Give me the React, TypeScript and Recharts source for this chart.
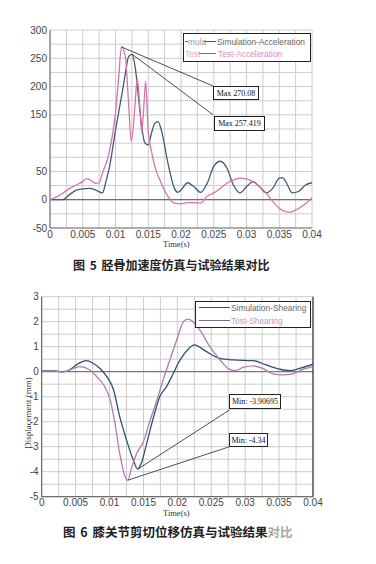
import React from "react";
import { LineChart, Line, XAxis, YAxis, CartesianGrid, ReferenceLine } from "recharts";

// ---------- Chart 1 (tibia acceleration) ----------
const accSimTime = [0, 0.0018, 0.003, 0.004, 0.005, 0.006, 0.007, 0.008, 0.0086, 0.009, 0.01, 0.011, 0.0115, 0.012, 0.0125, 0.013, 0.0135, 0.014, 0.0145, 0.015, 0.0155, 0.016, 0.0165, 0.017, 0.018, 0.019, 0.0195, 0.02, 0.021, 0.022, 0.023, 0.024, 0.025, 0.026, 0.027, 0.028, 0.029, 0.03, 0.031, 0.032, 0.033, 0.034, 0.035, 0.0355, 0.036, 0.037, 0.038, 0.039, 0.04];
const accSimValue = [0, 0, 9, 17, 19, 20, 17, 12, 35, 53, 123, 188, 223, 253, 257, 235, 182, 129, 100, 97, 118, 135, 138, 123, 65, 20, 13, 17, 30, 23, 13, 29, 59, 68, 56, 26, 12, 23, 32, 23, 12, 20, 38, 39, 32, 12, 15, 26, 30];
const accTestTime = [0, 0.001, 0.002, 0.003, 0.004, 0.005, 0.0055, 0.006, 0.007, 0.0075, 0.008, 0.009, 0.01, 0.0105, 0.0109, 0.0115, 0.012, 0.0124, 0.013, 0.0133, 0.0138, 0.014, 0.0143, 0.0146, 0.015, 0.0155, 0.016, 0.017, 0.018, 0.019, 0.02, 0.021, 0.022, 0.023, 0.024, 0.025, 0.026, 0.027, 0.028, 0.029, 0.03, 0.031, 0.032, 0.033, 0.034, 0.035, 0.036, 0.0365, 0.037, 0.038, 0.039, 0.04];
const accTestValue = [0, 5, 12, 20, 26, 32, 37, 36, 29, 30, 47, 82, 153, 218, 270, 253, 170, 103, 170, 215, 150, 120, 160, 209, 120, 85, 59, 29, 6, -6, -7, -5, -5, -6, 6, 12, 20, 29, 35, 38, 37, 32, 23, 12, -3, -15, -21, -22, -21, -15, -7, 3];
const accYTicks = [-50, -25, 0, 25, 50, 75, 100, 125, 150, 175, 200, 225, 250, 275, 300];
const accMaxTest = { t: 0.0109, v: 270.08, label: "Max 270.08" };
const accMaxSim = { t: 0.0125, v: 257.419, label: "Max 257.419" };
const accBox1Anchor = { t: 0.0249, v: 201 };
const accBox2Anchor = { t: 0.0249, v: 150 };

// ---------- Chart 2 (knee shearing displacement) ----------
const shSimTime = [0, 0.002, 0.003, 0.004, 0.005, 0.006, 0.0066, 0.0075, 0.0086, 0.0096, 0.0106, 0.0115, 0.0125, 0.0135, 0.01415, 0.0147, 0.0155, 0.0165, 0.0174, 0.0184, 0.0194, 0.0204, 0.0216, 0.0225, 0.0243, 0.0263, 0.0282, 0.0312, 0.0331, 0.0351, 0.0366, 0.038, 0.04];
const shSimValue = [0.03, 0.03, 0, 0.05, 0.25, 0.4, 0.44, 0.35, 0.13, -0.2, -0.73, -1.8, -2.73, -3.53, -3.9, -3.65, -2.85, -1.8, -1.0, -0.6, -0.07, 0.47, 0.9, 1.07, 0.8, 0.53, 0.47, 0.44, 0.27, 0.1, 0.04, 0.13, 0.3];
const shTestTime = [0, 0.002, 0.003, 0.004, 0.0056, 0.0071, 0.0081, 0.0093, 0.0101, 0.0108, 0.0115, 0.0123, 0.0127, 0.0133, 0.014, 0.015, 0.016, 0.017, 0.0179, 0.0189, 0.0199, 0.0209, 0.0216, 0.0233, 0.0248, 0.0263, 0.0277, 0.0285, 0.0297, 0.0312, 0.0326, 0.0341, 0.0356, 0.0368, 0.0385, 0.04];
const shTestValue = [0.02, 0.02, -0.02, 0.05, 0.2, 0.07, -0.2, -0.6, -1.13, -2.07, -3.27, -4.2, -4.34, -3.8, -3.27, -2.8, -1.93, -1.13, -0.33, 0.47, 1.27, 2.0, 2.1, 1.67, 1.0, 0.47, 0.09, 0.04, 0.17, 0.23, 0.13, -0.09, -0.13, -0.1, 0.09, 0.2];
const shYTicks = [-5, -4.5, -4, -3.5, -3, -2.5, -2, -1.5, -1, -0.5, 0, 0.5, 1, 1.5, 2, 2.5, 3];
const shMinSim = { t: 0.01415, v: -3.9, label: "Min: -3.90695" };
const shMinTest = { t: 0.0127, v: -4.34, label: "Min: -4.34" };
const shBox1Anchor = { t: 0.0277, v: -1.53 };
const shBox2Anchor = { t: 0.0277, v: -3.0 };

const xTicks = [0, 0.0025, 0.005, 0.0075, 0.01, 0.0125, 0.015, 0.0175, 0.02, 0.0225, 0.025, 0.0275, 0.03, 0.0325, 0.035, 0.0375, 0.04];
const xTickLabels = ["0", "", "0.005", "", "0.01", "", "0.015", "", "0.02", "", "0.025", "", "0.03", "", "0.035", "", "0.04"];

const zip = (ts: number[], vs: number[]) => ts.map((t, i) => ({ t, v: vs[i] }));

const accSim = zip(accSimTime, accSimValue);
const accTest = zip(accTestTime, accTestValue);
const shSim = zip(shSimTime, shSimValue);
const shTest = zip(shTestTime, shTestValue);

const SIM1 = "#3f5d75";
const TEST1 = "#d873aa";
const SIM2 = "#34506a";
const TEST2 = "#b27bb2";
const GRID = "#cccccc";

const tickStyle = { fontSize: 10, fill: "#444", fontFamily: "Liberation Sans, Arial, sans-serif" };

const xFmt = (v: number) => {
  const i = xTicks.indexOf(v);
  return i >= 0 ? xTickLabels[i] : "";
};

const abs = (left: number, top: number, extra: React.CSSProperties = {}): React.CSSProperties => ({
  position: "absolute",
  left,
  top,
  ...extra,
});

const boxStyle = (left: number, top: number, width: number, height: number): React.CSSProperties => ({
  position: "absolute",
  left,
  top,
  width,
  height,
  boxSizing: "border-box",
  border: "1px solid #222",
  background: "#fff",
  fontFamily: "Liberation Serif, Times New Roman, serif",
  fontSize: 8,
  color: "#111",
  display: "flex",
  alignItems: "center",
  justifyContent: "center",
  whiteSpace: "nowrap",
});

const legendText: React.CSSProperties = {
  fontFamily: "Liberation Sans, Arial, sans-serif",
  fontSize: 8.4,
  whiteSpace: "nowrap",
  lineHeight: "10px",
};

export default function App() {
  return (
    <div style={{ position: "absolute", left: 0, top: 0, width: 376, height: 564, background: "#fff", overflow: "hidden" }}>
      {/* Chart 1 */}
      <div style={abs(0, 0)}>
        <LineChart width={376} height={250} margin={{ top: 30, right: 64, bottom: 2, left: 10 }}>
          <CartesianGrid stroke={GRID} strokeWidth={1} />
          <XAxis
            type="number"
            dataKey="t"
            domain={[0, 0.04]}
            ticks={xTicks}
            tickFormatter={xFmt}
            interval={0}
            tickLine={false}
            tickSize={0}
            tickMargin={3}
            axisLine={{ stroke: "#777" }}
            tick={tickStyle}
            height={20}
            allowDataOverflow
          />
          <YAxis
            type="number"
            domain={[-50, 300]}
            ticks={accYTicks}
            tickFormatter={(v: number) => (v % 50 === 0 && v !== 100 ? String(v) : "")}
            interval={0}
            tickLine={false}
            tickSize={0}
            tickMargin={3}
            axisLine={{ stroke: "#666" }}
            tick={tickStyle}
            width={40}
            allowDataOverflow
          />
          <ReferenceLine y={0} stroke="#555" strokeWidth={1} />
          <Line data={accSim} dataKey="v" type="monotone" stroke={SIM1} strokeWidth={1.3} dot={false} isAnimationActive={false} />
          <Line data={accTest} dataKey="v" type="monotone" stroke={TEST1} strokeWidth={1.3} dot={false} isAnimationActive={false} />
          <ReferenceLine segment={[{ x: accMaxTest.t, y: accMaxTest.v }, { x: accBox1Anchor.t, y: accBox1Anchor.v }]} stroke="#222" strokeWidth={0.8} />
          <ReferenceLine segment={[{ x: accMaxSim.t, y: accMaxSim.v }, { x: accBox2Anchor.t, y: accBox2Anchor.v }]} stroke="#222" strokeWidth={0.8} />
        </LineChart>
      </div>
      {/* legend 1 */}
      <div style={{ position: "absolute", left: 183, top: 33, width: 128, height: 29, boxSizing: "border-box", border: "1px solid #222", background: "#fff" }} />
      <div style={abs(185, 41, { width: 3, height: 1, background: "#666" })} />
      <div style={abs(188, 36.5, { ...legendText, color: "#999" })}>mula</div>
      <div style={abs(204, 41, { width: 12, height: 1, background: "#555" })} />
      <div style={abs(217, 36.5, { ...legendText, color: "#666" })}>Simulation-Acceleration</div>
      <div style={abs(185, 48.5, { ...legendText, color: "#e3a9c8" })}>Test</div>
      <div style={abs(199, 53, { width: 17, height: 1, background: "#8a6a80" })} />
      <div style={abs(218, 48.5, { ...legendText, color: "#d98fb8" })}>Test-Acceleration</div>
      {/* annotation boxes 1 */}
      <div style={boxStyle(213, 86, 46, 14)}>{accMaxTest.label}</div>
      <div style={boxStyle(214, 116, 51, 15)}>{accMaxSim.label}</div>
      <div style={abs(163, 239, { fontFamily: "Liberation Serif, serif", fontSize: 8.5, color: "#333", lineHeight: "10px" })}>Time(s)</div>
      <div style={abs(73, 257, { fontFamily: "Noto Sans CJK SC, sans-serif", fontSize: 12, fontWeight: 700, color: "#222", lineHeight: "16px", whiteSpace: "nowrap", wordSpacing: 2 })}>
        图 5 胫骨加速度仿真与试验结果对比
      </div>

      {/* Chart 2 */}
      <div style={abs(0, 280)}>
        <LineChart width={376} height={240} margin={{ top: 16.7, right: 63, bottom: 3.3, left: 9.7 }}>
          <CartesianGrid stroke={GRID} strokeWidth={1} />
          <XAxis
            type="number"
            dataKey="t"
            domain={[0, 0.04]}
            ticks={xTicks}
            tickFormatter={xFmt}
            interval={0}
            tickLine={false}
            tickSize={0}
            tickMargin={2}
            axisLine={{ stroke: "#555" }}
            tick={tickStyle}
            height={20}
            allowDataOverflow
          />
          <YAxis
            type="number"
            domain={[-5, 3]}
            ticks={shYTicks}
            tickFormatter={(v: number) => (Number.isInteger(v) ? String(v) : "")}
            interval={0}
            tickLine={false}
            tickSize={0}
            tickMargin={3}
            axisLine={{ stroke: "#555" }}
            tick={tickStyle}
            width={32}
            allowDataOverflow
          />
          <ReferenceLine y={0} stroke="#666" strokeWidth={1} />
          <ReferenceLine x={0.04} stroke="#333" strokeWidth={1.2} />
          <Line data={shSim} dataKey="v" type="monotone" stroke={SIM2} strokeWidth={1.3} dot={false} isAnimationActive={false} />
          <Line data={shTest} dataKey="v" type="monotone" stroke={TEST2} strokeWidth={1.3} dot={false} isAnimationActive={false} />
          <ReferenceLine segment={[{ x: shMinSim.t, y: shMinSim.v }, { x: shBox1Anchor.t, y: shBox1Anchor.v }]} stroke="#222" strokeWidth={0.8} />
          <ReferenceLine segment={[{ x: shMinTest.t, y: shMinTest.v }, { x: shBox2Anchor.t, y: shBox2Anchor.v }]} stroke="#222" strokeWidth={0.8} />
        </LineChart>
      </div>
      {/* legend 2 */}
      <div style={{ position: "absolute", left: 195, top: 301, width: 116, height: 27, boxSizing: "border-box", border: "1px solid #222", background: "#fff" }} />
      <div style={abs(199, 307, { width: 31, height: 1, background: SIM2 })} />
      <div style={abs(231, 302.5, { ...legendText, color: "#666" })}>Simulation-Shearing</div>
      <div style={abs(199, 320, { width: 31, height: 1, background: "#7d6a90" })} />
      <div style={abs(231, 315.5, { ...legendText, color: "#c993c4" })}>Test-Shearing</div>
      {/* annotation boxes 2 */}
      <div style={boxStyle(229, 394, 52, 15)}>{shMinSim.label}</div>
      <div style={boxStyle(229, 433, 39, 14)}>{shMinTest.label}</div>
      <div style={abs(163, 508, { fontFamily: "Liberation Serif, serif", fontSize: 8.5, color: "#333", lineHeight: "10px" })}>Time(s)</div>
      <div
        style={{
          position: "absolute",
          left: 28,
          top: 413,
          transform: "translate(-50%, -50%) rotate(-90deg)",
          fontFamily: "Liberation Serif, serif",
          fontSize: 9,
          color: "#333",
          whiteSpace: "nowrap",
          lineHeight: "10px",
        }}
      >
        Displacement (mm)
      </div>
      <div style={abs(63, 524, { fontFamily: "Noto Sans CJK SC, sans-serif", fontSize: 12.5, fontWeight: 700, color: "#222", lineHeight: "16px", whiteSpace: "nowrap", wordSpacing: 2 })}>
        图 6 膝关节剪切位移仿真与试验结果<span style={{ color: "#a8a898" }}>对比</span>
      </div>
    </div>
  );
}
